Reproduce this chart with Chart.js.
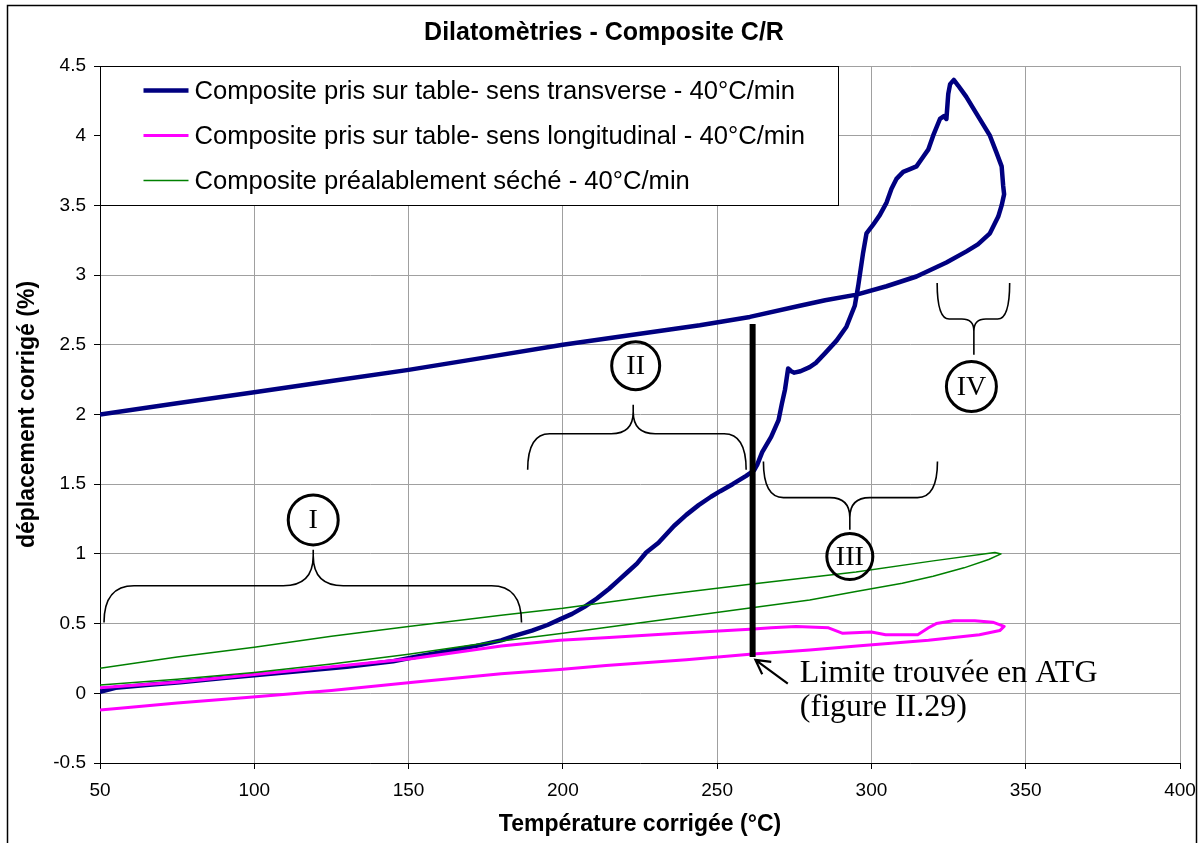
<!DOCTYPE html>
<html>
<head>
<meta charset="utf-8">
<title>Dilatomètries - Composite C/R</title>
<script src="https://cdn.jsdelivr.net/npm/chart.js@4.4.1/dist/chart.umd.min.js"></script>
<style>
  html, body { margin: 0; padding: 0; background: #fff; }
  canvas { display: block; }
</style>
</head>
<body>
<canvas id="dilato" width="1198" height="843"></canvas>
<script>
// Composite pris sur table - sens transverse (heating loop then cooling back)
const transverseT = [50, 55, 65, 76, 90, 100, 115, 130, 145, 152, 162, 172, 180, 184, 190, 195, 199, 203, 207, 211,
  215, 218, 221, 224, 227, 231, 236, 240, 244, 248, 251, 255, 259.4, 262, 263, 264.6, 267.5, 269.9, 271, 272,
  273, 274, 275, 277, 280, 282, 285, 288.7, 291.9, 294.6, 295.7, 297.3, 298.4, 300.5, 302.7, 304.9, 306.5, 308.1,
  310.3, 312.5, 314.6, 316.5, 318.4, 320, 322.2, 323.5, 324.3, 324.9, 325.5, 326.7, 328.1, 330.7, 334, 338.4,
  340.5, 342.2, 342.7, 343, 342.2, 341.1, 338.4, 334.5, 330.8, 324.3, 314.6, 304.9, 295.2, 285, 276.8, 260.6,
  244.4, 225, 200, 175, 150, 125, 100, 75, 50];
const transverseD = [0.01, 0.04, 0.06, 0.08, 0.11, 0.13, 0.16, 0.19, 0.23, 0.26, 0.30, 0.34, 0.38, 0.41, 0.45, 0.49, 0.53, 0.57, 0.62, 0.68,
  0.75, 0.81, 0.87, 0.93, 1.01, 1.08, 1.20, 1.28, 1.35, 1.41, 1.45, 1.50, 1.56, 1.60, 1.64, 1.73, 1.84, 1.96, 2.08, 2.18,
  2.33, 2.31, 2.30, 2.31, 2.34, 2.37, 2.44, 2.53, 2.63, 2.78, 2.92, 3.16, 3.30, 3.36, 3.43, 3.52, 3.62, 3.69,
  3.74, 3.76, 3.78, 3.84, 3.90, 4.00, 4.12, 4.14, 4.12, 4.30, 4.37, 4.40, 4.36, 4.28, 4.16, 4.00,
  3.88, 3.78, 3.64, 3.58, 3.50, 3.42, 3.30, 3.22, 3.17, 3.09, 2.99, 2.92, 2.86, 2.82, 2.78, 2.70,
  2.64, 2.58, 2.50, 2.41, 2.32, 2.24, 2.16, 2.08, 2.00];

// Composite pris sur table - sens longitudinal
const longiT = [50, 60, 75, 97.5, 125, 151.5, 180, 199, 214, 240, 260.6, 280, 295.3, 318.5, 335, 341.6, 343,
  339.3, 333.5, 326.6, 321, 318.5, 315, 304.6, 300, 290.7, 286.1, 275.6, 267.5, 260.6, 237.5, 215, 199, 180,
  151.5, 125, 97.5, 75, 50];
const longiD = [-0.12, -0.10, -0.07, -0.03, 0.02, 0.08, 0.14, 0.17, 0.20, 0.24, 0.28, 0.31, 0.34, 0.38, 0.42, 0.45, 0.48,
  0.51, 0.52, 0.52, 0.50, 0.47, 0.42, 0.42, 0.44, 0.43, 0.47, 0.48, 0.47, 0.46, 0.43, 0.40, 0.38, 0.34,
  0.25, 0.19, 0.13, 0.08, 0.04];

// Composite préalablement séché
const secheT = [50, 75, 100, 125, 150, 175, 200, 230, 260, 280, 295, 310, 320, 330, 338, 342,
  340, 320, 295, 260, 230, 200, 180, 150, 125, 100, 75, 50];
const secheD = [0.06, 0.10, 0.15, 0.21, 0.28, 0.36, 0.43, 0.52, 0.61, 0.67, 0.73, 0.79, 0.84, 0.90, 0.96, 1.00,
  1.01, 0.95, 0.87, 0.78, 0.70, 0.61, 0.56, 0.48, 0.41, 0.33, 0.26, 0.18];

// Limit found by TGA (thick vertical bar)
const limitT = [261.5, 261.5];
const limitD = [0.26, 2.65];

const seriesLabels = [
  'Composite pris sur table- sens transverse - 40°C/min',
  'Composite pris sur table- sens longitudinal - 40°C/min',
  'Composite préalablement séché - 40°C/min'
];

const FONT = '"Liberation Sans", Arial, sans-serif';
const SERIF = '"Liberation Serif", "Times New Roman", serif';

function toPoints(xs, ys) {
  return xs.map((x, i) => ({ x: x, y: ys[i] }));
}

// Zone annotations (in data units), drawn with a small plugin
const zones = [
  { name: 'I',   x1: 51.3,  x2: 186.6, xm: 119.1, yEnd: 0.507, yFlat: 0.771, yTip: 1.03,  rEnd: 30, rCusp: 30, cx: 119.1, cy: 1.244, r: 25 },
  { name: 'II',  x1: 188.6, x2: 259.4, xm: 222.8, yEnd: 1.603, yFlat: 1.862, yTip: 2.07,  rEnd: 22, rCusp: 22, cx: 223.6, cy: 2.35,  r: 24 },
  { name: 'III', x1: 265,   x2: 321.4, xm: 293,   yEnd: 1.663, yFlat: 1.404, yTip: 1.173, rEnd: 20, rCusp: 20, cx: 293,   cy: 0.981, r: 23 },
  { name: 'IV',  x1: 321.3, x2: 344.8, xm: 333.2, yEnd: 2.944, yFlat: 2.685, yTip: 2.429, rEnd: 12, rCusp: 12, cx: 332.4, cy: 2.201, r: 25 }
];

function drawBrace(ctx, xs, ys, z) {
  const x1 = xs.getPixelForValue(z.x1), x2 = xs.getPixelForValue(z.x2), xm = xs.getPixelForValue(z.xm);
  const ye = ys.getPixelForValue(z.yEnd), yf = ys.getPixelForValue(z.yFlat), yt = ys.getPixelForValue(z.yTip);
  const s = Math.sign(yf - ye);
  ctx.beginPath();
  ctx.moveTo(x1, ye);
  ctx.quadraticCurveTo(x1, yf, x1 + z.rEnd, yf);
  ctx.lineTo(xm - z.rCusp, yf);
  ctx.quadraticCurveTo(xm, yf, xm, yf + s * z.rCusp);
  ctx.lineTo(xm, yt);
  ctx.moveTo(xm, yf + s * z.rCusp);
  ctx.quadraticCurveTo(xm, yf, xm + z.rCusp, yf);
  ctx.lineTo(x2 - z.rEnd, yf);
  ctx.quadraticCurveTo(x2, yf, x2, ye);
  ctx.stroke();
}

const sketchPlugin = {
  id: 'sketch',
  beforeDraw(chart) {
    const ctx = chart.ctx;
    ctx.save();
    ctx.fillStyle = '#fff';
    ctx.fillRect(0, 0, chart.width, chart.height);
    ctx.restore();
  },
  afterDatasetsDraw(chart) {
    const ctx = chart.ctx;
    const xs = chart.scales.x, ys = chart.scales.y;
    ctx.save();
    ctx.strokeStyle = '#000';
    ctx.fillStyle = '#000';

    // braces + circled numerals
    zones.forEach(z => {
      ctx.lineWidth = 1.6;
      drawBrace(ctx, xs, ys, z);
      const cx = xs.getPixelForValue(z.cx), cy = ys.getPixelForValue(z.cy);
      ctx.lineWidth = 3;
      ctx.beginPath();
      ctx.arc(cx, cy, z.r, 0, Math.PI * 2);
      ctx.stroke();
      ctx.font = '28px ' + SERIF;
      ctx.textAlign = 'center';
      ctx.textBaseline = 'middle';
      ctx.fillText(z.name, cx, cy + 1);
    });

    // arrow pointing to the bottom of the limit bar
    const tx = xs.getPixelForValue(272.9), ty = ys.getPixelForValue(0.07);
    const hx = xs.getPixelForValue(262.4), hy = ys.getPixelForValue(0.24);
    const ang = Math.atan2(hy - ty, hx - tx);
    ctx.lineWidth = 2.2;
    ctx.beginPath();
    ctx.moveTo(tx, ty);
    ctx.lineTo(hx, hy);
    ctx.moveTo(hx - 16 * Math.cos(ang - 0.5), hy - 16 * Math.sin(ang - 0.5));
    ctx.lineTo(hx, hy);
    ctx.lineTo(hx - 16 * Math.cos(ang + 0.5), hy - 16 * Math.sin(ang + 0.5));
    ctx.stroke();

    ctx.font = '32px ' + SERIF;
    ctx.textAlign = 'left';
    ctx.textBaseline = 'alphabetic';
    const lx = xs.getPixelForValue(276.8);
    ctx.fillText('Limite trouvée en ATG', lx, ys.getPixelForValue(0.081));
    ctx.fillText('(figure II.29)', lx, ys.getPixelForValue(-0.163));
    ctx.restore();
  },
  afterDraw(chart) {
    const ctx = chart.ctx;
    const area = chart.chartArea;
    ctx.save();

    // legend box in the upper-left corner of the plot
    const bx = area.left + 0.5, by = area.top + 0.5, bw = 738, bh = 139;
    ctx.fillStyle = '#fff';
    ctx.fillRect(bx, by, bw, bh);
    ctx.strokeStyle = '#000';
    ctx.lineWidth = 1;
    ctx.strokeRect(bx, by, bw, bh);
    ctx.font = '25.6px ' + FONT;
    ctx.textAlign = 'left';
    ctx.textBaseline = 'middle';
    chart.data.datasets.slice(0, 3).forEach((ds, i) => {
      const yy = by + 24 + i * 45;
      ctx.strokeStyle = ds.borderColor;
      ctx.lineWidth = ds.borderWidth;
      ctx.beginPath();
      ctx.moveTo(bx + 43, yy);
      ctx.lineTo(bx + 88, yy);
      ctx.stroke();
      ctx.fillStyle = '#000';
      ctx.fillText(ds.label, bx + 94, yy + 1);
    });

    // outer frame
    ctx.strokeStyle = '#000';
    ctx.lineWidth = 1.5;
    ctx.strokeRect(7.5, 5.5, 1189, 860);
    ctx.restore();
  }
};

new Chart(document.getElementById('dilato'), {
  type: 'line',
  data: {
    datasets: [
      { label: seriesLabels[0], data: toPoints(transverseT, transverseD), borderColor: '#000080', borderWidth: 4.5, order: 3 },
      { label: seriesLabels[1], data: toPoints(longiT, longiD), borderColor: '#ff00ff', borderWidth: 3, order: 2 },
      { label: seriesLabels[2], data: toPoints(secheT, secheD), borderColor: '#008000', borderWidth: 1.5, order: 1 },
      { label: 'Limite ATG', data: toPoints(limitT, limitD), borderColor: '#000', borderWidth: 6, borderCapStyle: 'butt', order: 0 }
    ]
  },
  options: {
    responsive: false,
    animation: false,
    events: [],
    elements: { point: { radius: 0 }, line: { tension: 0, fill: false, borderJoinStyle: 'round' } },
    layout: { padding: { left: 28, right: 18, top: 0, bottom: 0 } },
    plugins: {
      legend: { display: false },
      tooltip: { enabled: false },
      title: {
        display: true,
        text: 'Dilatomètries - Composite C/R',
        color: '#000',
        font: { family: FONT, size: 25, weight: 'bold' },
        padding: { top: 18, bottom: 18 }
      }
    },
    scales: {
      x: {
        type: 'linear',
        min: 50,
        max: 400,
        ticks: { stepSize: 50, padding: 10, color: '#000', font: { family: FONT, size: 19 } },
        grid: { color: '#a0a0a0', tickColor: '#000', tickLength: 6 },
        border: { color: '#000', width: 1 },
        title: {
          display: true,
          text: 'Température corrigée (°C)',
          color: '#000',
          font: { family: FONT, size: 23, weight: 'bold' },
          padding: { top: 0, bottom: 5 }
        },
        afterFit(scale) {
          scale.height = 80;
          scale.paddingLeft = 0;
          scale.paddingRight = 0;
        }
      },
      y: {
        type: 'linear',
        min: -0.5,
        max: 4.5,
        ticks: {
          stepSize: 0.5,
          padding: 8,
          color: '#000',
          font: { family: FONT, size: 19 },
          callback: v => String(Math.round(v * 10) / 10)
        },
        grid: { color: '#a0a0a0', tickColor: '#000', tickLength: 6 },
        border: { color: '#000', width: 1 },
        title: {
          display: true,
          text: 'déplacement corrigé (%)',
          color: '#000',
          font: { family: FONT, size: 23, weight: 'bold' },
          padding: { top: -14, bottom: 0 }
        },
        afterFit(scale) { scale.width = 72; }
      }
    }
  },
  plugins: [sketchPlugin]
});
</script>
</body>
</html>
